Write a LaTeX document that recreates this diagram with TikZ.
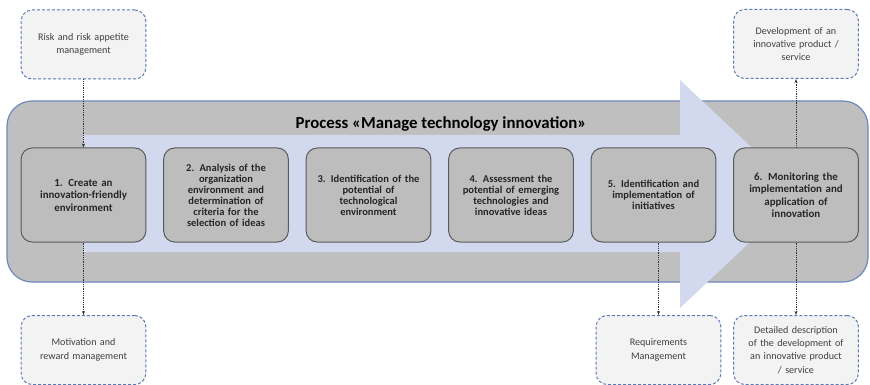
\documentclass[tikz,border=0pt]{standalone}
\usepackage{fontspec}
\setmainfont{Carlito}
\usetikzlibrary{arrows.meta,positioning}
\definecolor{framegray}{HTML}{BFBFBF}
\definecolor{frameblue}{HTML}{7088BC}
\definecolor{arrowblue}{HTML}{D2D8EE}
\definecolor{boxgray}{HTML}{BDBDBD}
\definecolor{dashblue}{HTML}{5A78B4}
\definecolor{dashfill}{HTML}{F3F3F3}

\begin{document}
\begin{tikzpicture}[x=1pt, y=-1pt,
    stage/.style={rectangle, draw=black!65, line width=1pt, fill=boxgray, rounded corners=11pt, minimum width=123pt, minimum height=94pt, text width=118pt, align=center, font=\bfseries\fontsize{10.5}{11}\selectfont, text=black!85},
    bigstage/.style={stage, font=\bfseries\fontsize{10.9}{12.5}\selectfont},
    side/.style={rectangle, draw=dashblue, densely dashed, line width=1pt, fill=dashfill, rounded corners=11pt, minimum width=123pt, minimum height=69pt, text width=118pt, align=center, font=\fontsize{10.1}{13.3}\selectfont, text=black!75},
    link/.style={densely dotted, line width=0.8pt, black!80, -{Stealth[length=4pt]}}]
    \def\d{142.5}
    \def\y{195}
    \useasboundingbox (0,0) rectangle (870,385);

    % process frame with the big arrow on top
    \draw[fill=framegray, draw=frameblue, line width=1.2pt, rounded corners=25pt] (7,101) rectangle (868,282);
    \fill[arrowblue] (83,135) -- (680,135) -- (680,80) -- (801,194) -- (680,308) -- (680,252) -- (83,252) -- cycle;
    \node(title) at (441,124) {\bfseries\fontsize{16.8}{18}\selectfont Process «Manage technology innovation»};

    % process steps
    \node(s1) [bigstage] at (83.5 + \d * 0,\y) {1. Create an\\innovation-friendly\\environment};
    \node(s2) [stage] at (83.5 + \d * 1,\y) {2. Analysis of the\\organization\\environment and\\determination of\\criteria for the\\selection of ideas};
    \node(s3) [stage] at (83.5 + \d * 2,\y) {3. Identification of the\\potential of\\technological\\environment};
    \node(s4) [stage] at (83.5 + \d * 3,\y) {4. Assessment the\\potential of emerging\\technologies and\\innovative ideas};
    \node(s5) [stage] at (83.5 + \d * 4,\y) {5. Identification and\\implementation of\\initiatives};
    \node(s6) [bigstage] at (83.5 + \d * 5,\y) {6. Monitoring the\\implementation and\\application of\\innovation};

    % related processes
    \node(risk) [side] at (83.5,44.5) {Risk and risk appetite\\management};
    \node(devel) [side] at (796,44) {Development of an\\innovative product /\\service};
    \node(motiv) [side] at (83.5,350) {Motivation and\\reward management};
    \node(reqs) [side] at (658.5,350) {Requirements\\Management};
    \node(descr) [side] at (796,350) {Detailed description\\of the development of\\an innovative product\\/ service};

    \draw[link] (risk) -- (s1);
    \draw[link] (s1) -- (motiv);
    \draw[link] (s5.south -| reqs) -- (reqs);
    \draw[link] (s6) -- (devel);
    \draw[link] (s6) -- (descr);
\end{tikzpicture}
\end{document}
